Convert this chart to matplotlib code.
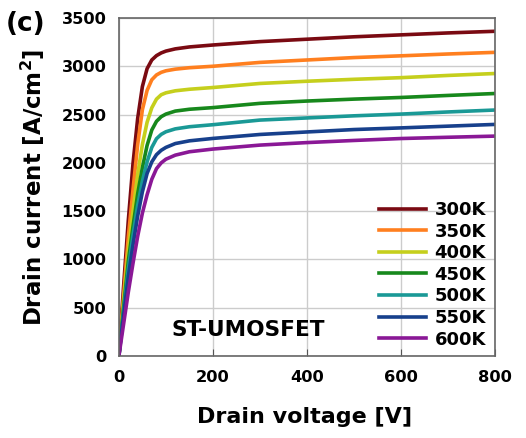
import matplotlib
matplotlib.use("Agg")
import matplotlib.pyplot as plt

# drain voltage [V]
voltage = [0, 10, 20, 30, 40, 50, 60, 70, 80, 90, 100, 120, 150, 200, 300, 400, 500, 600, 700, 800]

# drain current [A/cm^2] per temperature
temps = ["300K", "350K", "400K", "450K", "500K", "550K", "600K"]
i_300 = [0, 720, 1400, 1990, 2460, 2790, 2975, 3065, 3110, 3138, 3157, 3180, 3200, 3220, 3255, 3280, 3305, 3325, 3345, 3362]
i_350 = [0, 620, 1230, 1720, 2190, 2550, 2750, 2860, 2910, 2937, 2953, 2970, 2985, 3000, 3040, 3065, 3090, 3108, 3127, 3144]
i_400 = [0, 560, 1080, 1500, 1880, 2190, 2420, 2570, 2660, 2705, 2725, 2746, 2762, 2780, 2822, 2845, 2865, 2882, 2905, 2925]
i_450 = [0, 500, 980, 1340, 1680, 1950, 2180, 2340, 2430, 2478, 2505, 2536, 2555, 2572, 2616, 2640, 2660, 2677, 2698, 2718]
i_500 = [0, 460, 900, 1250, 1560, 1810, 2010, 2160, 2250, 2295, 2322, 2352, 2374, 2395, 2443, 2465, 2487, 2505, 2527, 2547]
i_550 = [0, 420, 820, 1150, 1450, 1700, 1890, 2010, 2085, 2130, 2160, 2200, 2228, 2253, 2294, 2320, 2345, 2362, 2380, 2398]
i_600 = [0, 330, 660, 960, 1240, 1480, 1670, 1830, 1940, 2000, 2038, 2080, 2115, 2143, 2184, 2210, 2232, 2252, 2265, 2277]
currents = [i_300, i_350, i_400, i_450, i_500, i_550, i_600]

colors = ["#7a0a12", "#ff7f1f", "#c5cf1d", "#17881c", "#1a9996", "#17408c", "#8a1896"]

plt.rcParams["font.family"] = ["DejaVu Sans"]
plt.rcParams["font.weight"] = "bold"
plt.rcParams["mathtext.default"] = "bf"

fig = plt.figure(figsize=(5.26, 4.38), dpi=100)
ax = fig.add_axes([0.226, 0.187, 0.715, 0.772])

for label, cur, c in zip(temps, currents, colors):
    ax.plot(voltage, cur, color=c, lw=2.6, label=label, solid_joinstyle="round")

ax.set_xlim(0, 800)
ax.set_ylim(0, 3500)
ax.set_xticks([0, 200, 400, 600, 800])
ax.set_yticks(range(0, 3501, 500))
ax.grid(True, color="#cccccc", lw=1)
ax.set_axisbelow(True)
ax.tick_params(axis="x", direction="in", length=5, pad=10, labelsize=11.7, color="#555555")
ax.tick_params(axis="y", direction="in", length=0, pad=9, labelsize=11.7)
for s in ax.spines.values():
    s.set_color("#666666")
    s.set_linewidth(1.2)

ax.set_xlabel("Drain voltage [V]", fontsize=16, fontweight="bold")
ax.xaxis.set_label_coords(0.495, -0.15)
ax.set_ylabel("Drain current [A/cm$^{2}$]", fontsize=16.5, fontweight="bold")
ax.yaxis.set_label_coords(-0.19, 0.5)

ax.text(0.14, 0.06, "ST-UMOSFET", transform=ax.transAxes, fontsize=15.6, fontweight="bold")
fig.text(0.01, 0.93, "(c)", fontsize=19, fontweight="bold")

ax.legend(loc="lower right", bbox_to_anchor=(1.005, -0.01), frameon=False, fontsize=13,
          handlelength=2.6, handletextpad=0.5, labelspacing=0.2, borderaxespad=0.2)

fig.savefig("out.png", dpi=100)
